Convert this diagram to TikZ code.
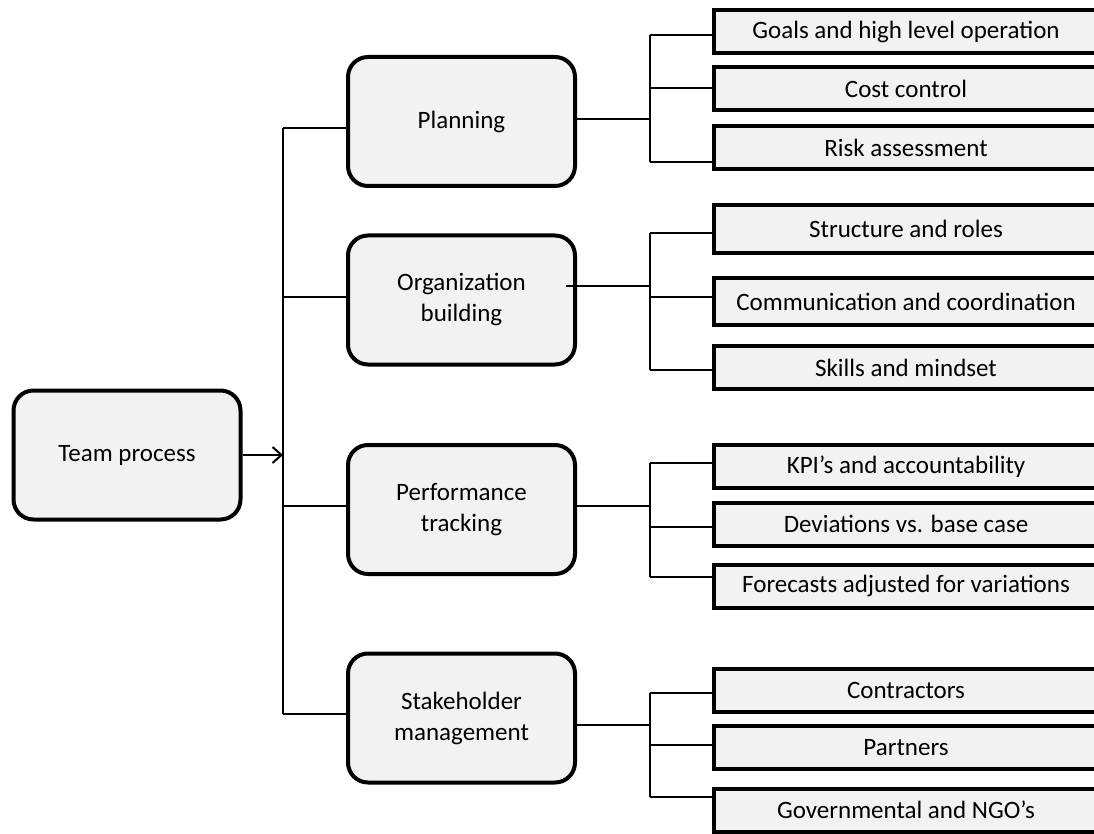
\documentclass[tikz,border=0pt]{standalone}
\usepackage{fontspec}
\setmainfont{Carlito}
\usetikzlibrary{arrows.meta,calc}
\definecolor{boxfill}{HTML}{F2F2F2}
\begin{document}
\begin{tikzpicture}[x=1pt,y=-1pt,
  mainbox/.style={draw, line width=4pt, fill=boxfill, rounded corners=20pt,
    minimum width=227pt, minimum height=129pt, align=center,
    font=\fontsize{25}{31}\selectfont, inner sep=0pt},
  leafbox/.style={draw, line width=4pt, fill=boxfill, minimum width=400pt,
    minimum height=43pt, font=\fontsize{25}{31}\selectfont, inner sep=0pt,
    execute at begin node={\hspace*{-16pt}}},
  link/.style={line width=2pt}]
\useasboundingbox (0,0) rectangle (1094,834);
\clip (0,0) rectangle (1094,834);

% main boxes
\node[mainbox] (team) at (127,455) {Team process};
\node[mainbox] (plan) at (461.5,121.5) {Planning};
\node[mainbox] (org) at (461.5,300) {Organization\\building};
\node[mainbox] (perf) at (461.5,509.5) {Performance\\tracking};
\node[mainbox] (stake) at (461.5,718) {Stakeholder\\management};

% leaf boxes
\node[leafbox] (l11) at (914,31.5) {Goals and high level operation};
\node[leafbox] (l12) at (914,89) {Cost control};
\node[leafbox] (l13) at (914,148) {Risk assessment};
\node[leafbox, minimum height=48pt] (l21) at (914,229) {Structure and roles};
\node[leafbox, minimum height=47pt] (l22) at (914,301.5) {Communication and coordination};
\node[leafbox] (l23) at (914,367.5) {Skills and mindset};
\node[leafbox] (l31) at (914,466.5) {KPI’s and accountability};
\node[leafbox] (l32) at (914,524) {Deviations vs. base case};
\node[leafbox] (l33) at (914,586) {Forecasts adjusted for variations};
\node[leafbox] (l41) at (914,690) {Contractors};
\node[leafbox] (l42) at (914,747.5) {Partners};
\node[leafbox] (l43) at (914,810) {Governmental and NGO’s};

% trunk from Team process
\coordinate (tA) at (283,128);
\coordinate (tB) at (283,297);
\coordinate (tC) at (283,506);
\coordinate (tD) at (283,714);
\draw[link] (tA) -- (tD);
\draw[link] (tA) -- (tA -| plan.west);
\draw[link] (tB) -- (tB -| org.west);
\draw[link] (tC) -- (tC -| perf.west);
\draw[link] (tD) -- (tD -| stake.west);
\draw[link, -{Straight Barb[length=9pt,width=16pt,line width=2pt]}] (team.east) -- (team.east -| tA);

% group 1
\coordinate (p0) at (650,119);
\coordinate (p1) at (650,35);
\coordinate (p2) at (650,88);
\coordinate (p3) at (650,162);
\draw[link] (plan.east |- p0) -- (p0);
\draw[link] (p1) -- (p3);
\draw[link] (p1) -- (p1 -| l11.west);
\draw[link] (p2) -- (p2 -| l12.west);
\draw[link] (p3) -- (p3 -| l13.west);

% group 2
\coordinate (o0) at (650,286);
\coordinate (o1) at (650,233);
\coordinate (o2) at (650,297);
\coordinate (o3) at (650,370);
\draw[link] ($(org.east |- o0)+(-11,0)$) -- (o0);
\draw[link] (o1) -- (o3);
\draw[link] (o1) -- (o1 -| l21.west);
\draw[link] (o2) -- (o2 -| l22.west);
\draw[link] (o3) -- (o3 -| l23.west);

% group 3
\coordinate (q0) at (650,506);
\coordinate (q1) at (650,463);
\coordinate (q2) at (650,527);
\coordinate (q3) at (650,577);
\draw[link] (perf.east |- q0) -- (q0);
\draw[link] (q1) -- (q3);
\draw[link] (q1) -- (q1 -| l31.west);
\draw[link] (q2) -- (q2 -| l32.west);
\draw[link] (q3) -- (q3 -| l33.west);

% group 4
\coordinate (s0) at (650,725);
\coordinate (s1) at (650,693);
\coordinate (s2) at (650,745);
\coordinate (s3) at (650,797);
\draw[link] (stake.east |- s0) -- (s0);
\draw[link] (s1) -- (s3);
\draw[link] (s1) -- (s1 -| l41.west);
\draw[link] (s2) -- (s2 -| l42.west);
\draw[link] (s3) -- (s3 -| l43.west);
\end{tikzpicture}
\end{document}
